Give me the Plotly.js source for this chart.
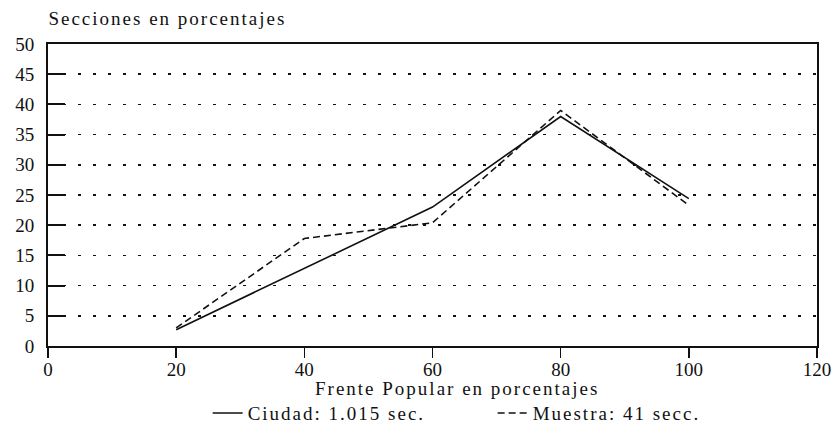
<!DOCTYPE html>
<html>
<head>
<meta charset="utf-8">
<script src="https://cdn.plot.ly/plotly-3.0.1.min.js"></script>
<style>
html,body{margin:0;padding:0;background:#fff;}
#chart{width:835px;height:433px;}
#chart text.gtitle, #chart text.annotation-text, #chart text.legendtext {letter-spacing: 2px;}
</style>
</head>
<body>
<div id="chart"></div>
<script>
// Data
const frentePopular = [20, 40, 60, 80, 100];
const ciudad = [2.7, 12.8, 23.0, 38.0, 24.4];
const muestra = [3.0, 17.8, 20.4, 39.0, 23.3];
const seriesNames = ["Ciudad: 1.015 sec.", "Muestra: 41 secc."];
const xTicks = [0, 20, 40, 60, 80, 100, 120];
const yTicks = [0, 5, 10, 15, 20, 25, 30, 35, 40, 45, 50];
const yTitle = "Secciones en porcentajes";
const xTitle = "Frente Popular en porcentajes";

const FONT = "'Times New Roman', 'Liberation Serif', 'DejaVu Serif', serif";

const traces = [
  {x: frentePopular, y: ciudad, name: seriesNames[0], mode: "lines", type: "scatter",
   line: {color: "#111", width: 1.6}},
  {x: frentePopular, y: muestra, name: seriesNames[1], mode: "lines", type: "scatter",
   line: {color: "#111", width: 1.6, dash: "7px,4px"}}
];

const layout = {
  width: 835, height: 433,
  margin: {l: 48, r: 18, t: 44, b: 87, autoexpand: false},
  paper_bgcolor: "#fff", plot_bgcolor: "#fff",
  font: {family: FONT, size: 18, color: "#111"},
  showlegend: true,
  legend: {orientation: "h", x: 0.59, xref: "container", xanchor: "center",
           y: 0.046, yref: "container", yanchor: "middle", entrywidth: 240,
           font: {family: FONT, size: 19, color: "#111"}, itemwidth: 30, tracegroupgap: 0,
           bgcolor: "rgba(0,0,0,0)"},
  title: {text: yTitle, x: 0.058, xref: "container", xanchor: "left", y: 0.958, yref: "container",
          yanchor: "middle", font: {family: FONT, size: 19, color: "#111"}},
  xaxis: {
    range: [0, 120], tickvals: xTicks, ticktext: xTicks.map(String),
    ticks: "outside", ticklen: 10, tickwidth: 1.5, tickcolor: "#111",
    showline: true, linecolor: "#111", linewidth: 2, mirror: true,
    showgrid: false, zeroline: false, fixedrange: true, automargin: false,
    ticklabelstandoff: -5,
    tickfont: {family: FONT, size: 19, color: "#111"}
  },
  yaxis: {
    range: [0, 50], tickvals: yTicks, ticktext: yTicks.map(String),
    ticks: "inside", ticklen: 17, tickwidth: 2, tickcolor: "#111",
    showline: true, linecolor: "#111", linewidth: 2, mirror: true,
    showgrid: true, gridcolor: "#111", gridwidth: 1.6, griddash: "3px,12px",
    zeroline: false, fixedrange: true, ticklabelstandoff: 8, automargin: false,
    tickfont: {family: FONT, size: 19, color: "#111"}
  },
  annotations: [
    {text: xTitle, xref: "paper", yref: "paper", x: 0.532, y: -0.14, xanchor: "center", yanchor: "middle",
     showarrow: false, font: {family: FONT, size: 19, color: "#111"}}
  ]
};

Plotly.newPlot("chart", traces, layout, {displayModeBar: false, staticPlot: true});
</script>
</body>
</html>
